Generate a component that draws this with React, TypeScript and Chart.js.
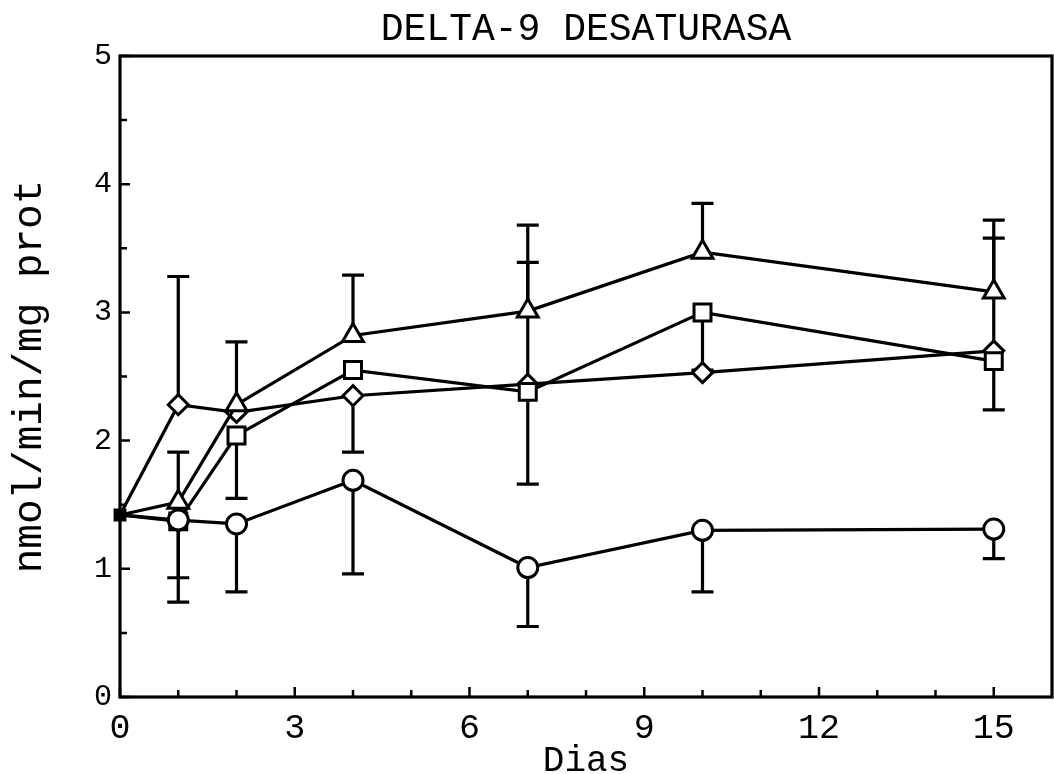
import React, { useEffect, useRef } from 'react';
import { Chart, registerables } from 'chart.js';
Chart.register(...registerables);

const FONT = "'Liberation Mono', 'DejaVu Sans Mono', monospace";

const days = [0, 1, 2, 4, 7, 10, 15];
const circleVals = [1.42, 1.38, 1.35, 1.69, 1.01, 1.30, 1.31];
const circleLo = [null, 0.93, 0.82, 0.96, 0.55, 0.82, 1.08];
const triangleVals = [1.42, 1.52, 2.28, 2.82, 3.01, 3.47, 3.16];
const triangleUp = [null, 1.91, 2.77, 3.29, 3.68, 3.85, 3.72];
const squareVals = [1.42, 1.37, 2.04, 2.55, 2.38, 3.0, 2.62];
const squareLo = [null, 0.74, 1.55, null, 1.66, 2.55, 2.24];
const diamondVals = [1.42, 2.28, 2.22, 2.35, 2.44, 2.53, 2.7];
const diamondUp = [null, 3.28, null, null, 3.39, null, 3.58];
const diamondLo = [null, null, null, 1.91, null, null, null];

const xTicks = [0, 3, 6, 9, 12, 15];
const yTicks = [0, 1, 2, 3, 4, 5];
const xMinorTicks = [1, 2, 4, 5, 7, 8, 10, 11, 13, 14];
const yMinorTicks = [0.5, 1.5, 2.5, 3.5, 4.5];

const title = 'DELTA-9 DESATURASA';
const xTitle = 'Dias';
const yTitle = 'nmol/min/mg prot';

const errorBars = [
  { vals: circleVals, up: null, lo: circleLo },
  { vals: triangleVals, up: triangleUp, lo: null },
  { vals: squareVals, up: null, lo: squareLo },
  { vals: diamondVals, up: diamondUp, lo: diamondLo },
];

const decor = {
  id: 'decor',
  beforeDatasetsDraw(chart: any) {
    const ctx = chart.ctx;
    const xs = chart.scales.x;
    const ys = chart.scales.y;
    ctx.save();
    ctx.strokeStyle = '#000';
    ctx.lineWidth = 3.2;
    ctx.lineCap = 'butt';
    errorBars.forEach((eb) => {
      [eb.up, eb.lo].forEach((arr) => {
        if (!arr) return;
        arr.forEach((v: number | null, i: number) => {
          if (v == null) return;
          const x = xs.getPixelForValue(days[i]);
          const y0 = ys.getPixelForValue(eb.vals[i]);
          const y1 = ys.getPixelForValue(v);
          ctx.beginPath();
          ctx.moveTo(x, y0);
          ctx.lineTo(x, y1);
          ctx.moveTo(x - 11, y1);
          ctx.lineTo(x + 11, y1);
          ctx.stroke();
        });
      });
    });
    ctx.restore();
  },
  afterDraw(chart: any) {
    const ctx = chart.ctx;
    const a = chart.chartArea;
    const xs = chart.scales.x;
    const ys = chart.scales.y;
    ctx.save();
    ctx.strokeStyle = '#000';
    ctx.lineWidth = 3.2;
    ctx.strokeRect(a.left, a.top, a.right - a.left, a.bottom - a.top);
    ctx.lineWidth = 2.5;
    ctx.beginPath();
    xTicks.forEach((v) => {
      const x = xs.getPixelForValue(v);
      ctx.moveTo(x, a.bottom);
      ctx.lineTo(x, a.bottom - 10);
    });
    xMinorTicks.forEach((v) => {
      const x = xs.getPixelForValue(v);
      ctx.moveTo(x, a.bottom);
      ctx.lineTo(x, a.bottom - 7);
    });
    yTicks.forEach((v) => {
      const y = ys.getPixelForValue(v);
      ctx.moveTo(a.left, y);
      ctx.lineTo(a.left + 10, y);
    });
    yMinorTicks.forEach((v) => {
      const y = ys.getPixelForValue(v);
      ctx.moveTo(a.left, y);
      ctx.lineTo(a.left + 7, y);
    });
    ctx.stroke();
    ctx.fillStyle = '#000';
    ctx.font = `38px ${FONT}`;
    ctx.textAlign = 'center';
    ctx.textBaseline = 'middle';
    ctx.fillText(title, (a.left + a.right) / 2, 30);
    ctx.restore();
  },
};

export default function App() {
  const ref = useRef<HTMLCanvasElement | null>(null);
  useEffect(() => {
    document.body.style.margin = '0';
    const canvas = ref.current;
    if (!canvas) return;
    const mk = (data: number[], style: string, radius: number) => ({
      data: days.map((d, i) => ({ x: d, y: data[i] })),
      showLine: true,
      borderColor: '#000',
      borderWidth: 3.2,
      pointStyle: style,
      pointRadius: (c: any) => (c.dataIndex === 0 ? 0 : radius),
      pointBorderColor: '#000',
      pointBackgroundColor: '#fff',
      pointBorderWidth: 3,
      clip: false as any,
    });
    const sq: any = mk(squareVals, 'rect', 12);
    sq.pointRadius = (c: any) => (c.dataIndex === 0 ? 7 : 12);
    sq.pointBackgroundColor = (c: any) => (c.dataIndex === 0 ? '#000' : '#fff');
    const chart = new Chart(canvas, {
      type: 'scatter',
      data: {
        datasets: [
          mk(circleVals, 'circle', 10),
          mk(triangleVals, 'triangle', 12),
          sq,
          mk(diamondVals, 'rectRot', 10),
        ] as any,
      },
      options: {
        responsive: false,
        animation: false,
        devicePixelRatio: 1,
        layout: { autoPadding: false, padding: { top: 56, right: 2, left: 0, bottom: 0 } },
        plugins: { legend: { display: false }, tooltip: { enabled: false }, title: { display: false } },
        scales: {
          x: {
            type: 'linear',
            min: 0,
            max: 16,
            afterBuildTicks: (s: any) => {
              s.ticks = xTicks.map((v) => ({ value: v }));
            },
            afterFit: (s: any) => {
              s.height = 77;
              s.paddingLeft = 0;
              s.paddingRight = 0;
            },
            grid: { display: false, drawTicks: false },
            border: { display: false },
            ticks: {
              padding: 11,
              color: '#000',
              maxRotation: 0,
              autoSkip: false,
              font: { family: FONT, size: 35 },
            },
            title: {
              display: true,
              text: xTitle,
              color: '#000',
              font: { family: FONT, size: 36, lineHeight: 0.7 },
              padding: { top: 0, bottom: 0 },
            },
          },
          y: {
            type: 'linear',
            min: 0,
            max: 5,
            afterBuildTicks: (s: any) => {
              s.ticks = yTicks.map((v) => ({ value: v }));
            },
            afterFit: (s: any) => {
              s.width = 120;
              s.paddingTop = 0;
              s.paddingBottom = 0;
            },
            grid: { display: false, drawTicks: false },
            border: { display: false },
            ticks: {
              padding: 8,
              color: '#000',
              font: { family: FONT, size: 30 },
            },
            title: {
              display: true,
              text: yTitle,
              color: '#000',
              font: { family: FONT, size: 41, lineHeight: 1 },
              padding: { top: 10, bottom: 0 },
            },
          },
        },
      },
      plugins: [decor],
    });
    return () => chart.destroy();
  }, []);
  return (
    <div style={{ width: 1054, height: 774, background: '#fff' }}>
      <canvas ref={ref} width={1054} height={774} />
    </div>
  );
}
